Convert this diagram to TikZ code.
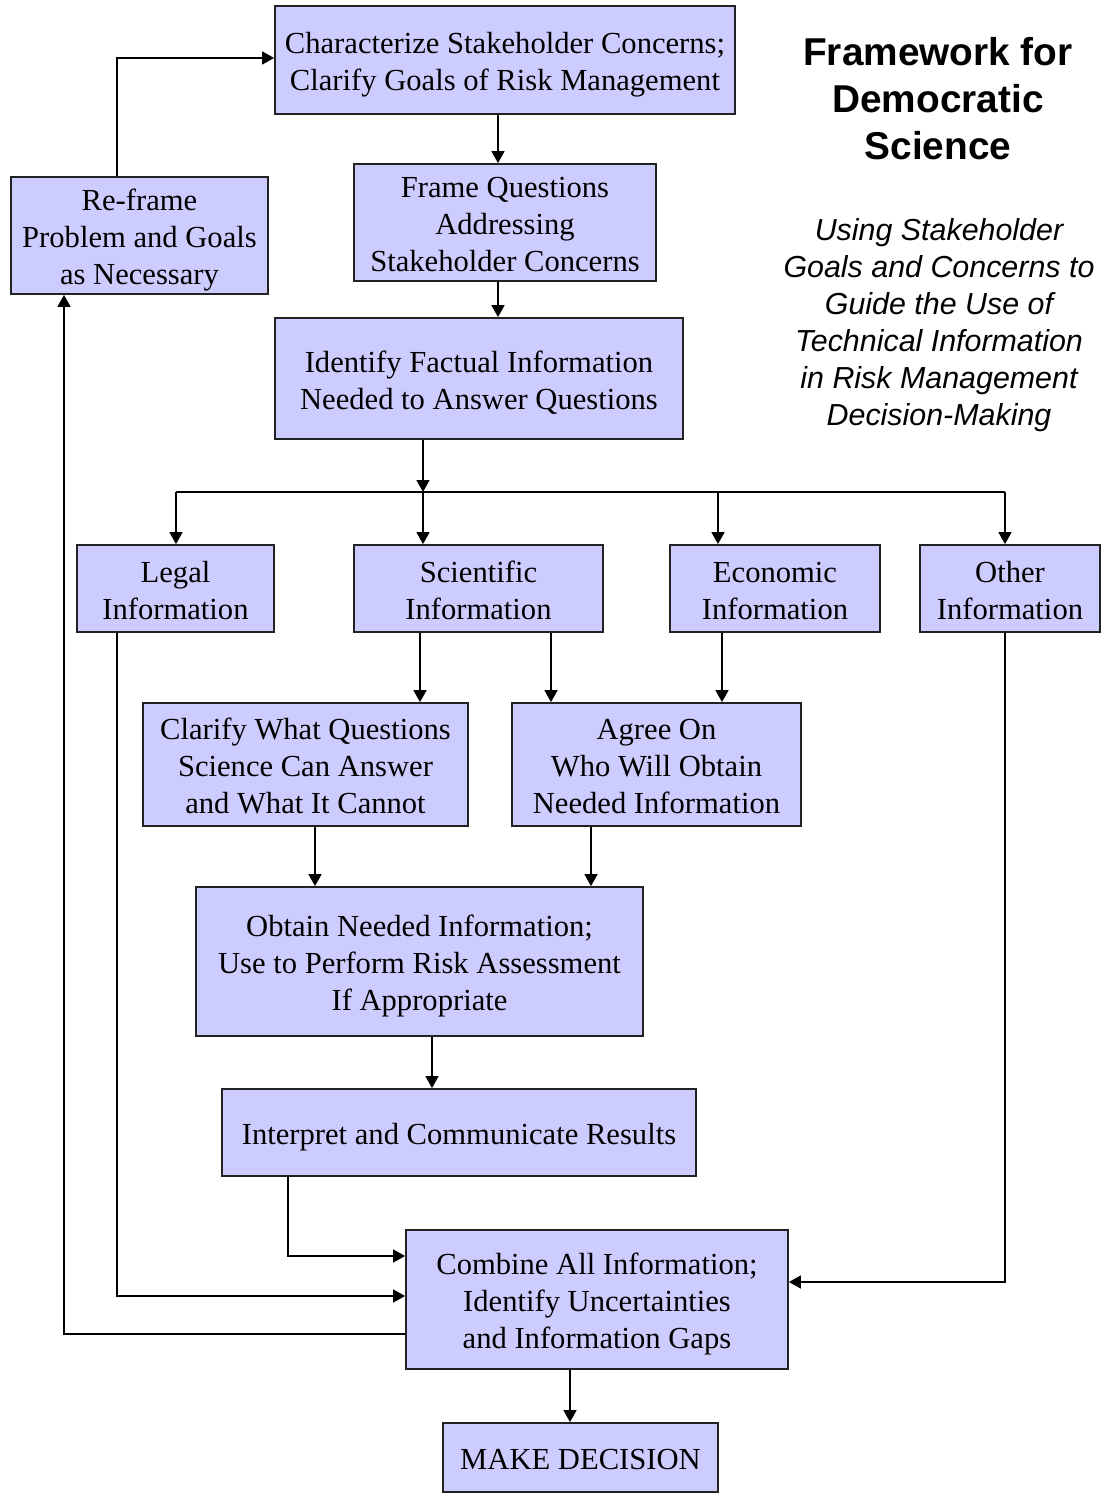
\documentclass[tikz,border=0pt]{standalone}
\usepackage{fontspec}
\setmainfont{Liberation Serif}
\newfontfamily\headfont{Liberation Sans}
\usetikzlibrary{arrows.meta}
\definecolor{boxfill}{HTML}{CCCCFF}
\definecolor{boxline}{HTML}{222222}
% invisible strut that sets a common top line height in every box
\newcommand\topstrut{\rule{0pt}{12pt}}
\tikzset{
  stepbox/.style={draw=boxline, line width=0.9pt, fill=boxfill, align=center,
    inner sep=0pt, text depth=0pt, font=\fontsize{15.3}{18.5}\selectfont},
  arr/.style={line width=0.8pt, -{Triangle[length=6pt,width=6.5pt]}},
  wire/.style={line width=0.8pt}
}
\begin{document}
\begin{tikzpicture}[x=0.5pt,y=-0.5pt]
\useasboundingbox (0,0) rectangle (1104,1501);

% process boxes
\node[stepbox, minimum width=230pt, minimum height=54pt] (char) at (505,60)
  {\topstrut Characterize Stakeholder Concerns;\\Clarify Goals of Risk Management};
\node[stepbox, minimum width=151pt, minimum height=58.5pt] (frame) at (505,222.5)
  {\topstrut Frame Questions\\Addressing\\Stakeholder Concerns};
\node[stepbox, minimum width=128.5pt, minimum height=58.5pt] (reframe) at (139.5,235.5)
  {\topstrut Re-frame\\Problem and Goals\\as Necessary};
\node[stepbox, minimum width=204pt, minimum height=60.5pt] (ident) at (479,378.5)
  {\topstrut Identify Factual Information\\Needed to Answer Questions};
\node[stepbox, minimum width=98.5pt, minimum height=43.5pt] (legal) at (175.5,588.5)
  {\topstrut Legal\\Information};
\node[stepbox, minimum width=124.5pt, minimum height=43.5pt] (sci) at (478.5,588.5)
  {\topstrut Scientific\\Information};
\node[stepbox, minimum width=105pt, minimum height=43.5pt] (econ) at (775,588.5)
  {\topstrut Economic\\Information};
\node[stepbox, minimum width=90pt, minimum height=43.5pt] (other) at (1010,588.5)
  {\topstrut Other\\Information};
\node[stepbox, minimum width=162.5pt, minimum height=61.5pt] (clarify) at (305.5,764.5)
  {\topstrut Clarify What Questions\\Science Can Answer\\and What It Cannot};
\node[stepbox, minimum width=144.5pt, minimum height=61.5pt] (agree) at (656.5,764.5)
  {\topstrut Agree On\\Who Will Obtain\\Needed Information};
\node[stepbox, minimum width=223.5pt, minimum height=74.5pt] (obtain) at (419.5,961.5)
  {\topstrut Obtain Needed Information;\\Use to Perform Risk Assessment\\If Appropriate};
\node[stepbox, minimum width=237pt, minimum height=43.5pt] (interp) at (459,1132.5)
  {\topstrut Interpret and Communicate Results};
\node[stepbox, minimum width=191pt, minimum height=69.5pt] (combine) at (597,1299.5)
  {\topstrut Combine All Information;\\Identify Uncertainties\\and Information Gaps};
\node[stepbox, minimum width=137.5pt, minimum height=34.5pt] (decide) at (580.5,1457.5)
  {\topstrut MAKE DECISION};

% title and subtitle
\node[align=center, inner sep=0pt, font=\headfont\bfseries\fontsize{19.4}{23.5}\selectfont]
  (title) at (938,99) {Framework for\\Democratic\\Science};
\node[align=center, inner sep=0pt, font=\headfont\itshape\fontsize{15.2}{18.5}\selectfont]
  (subtitle) at (939,325.5) {Using Stakeholder\\Goals and Concerns to\\Guide the Use of\\Technical Information\\in Risk Management\\Decision-Making};

% routing points
\coordinate (c1) at (498,0);
\coordinate (busL) at (176,492);
\coordinate (busM) at (423,492);
\coordinate (busE) at (718,492);
\coordinate (busR) at (1005,492);
\coordinate (xa) at (420,0);
\coordinate (xb) at (551,0);
\coordinate (xc) at (722,0);
\coordinate (xd) at (315,0);
\coordinate (xe) at (591,0);
\coordinate (xf) at (432,0);
\coordinate (xg) at (570,0);
\coordinate (k1) at (288,1256);
\coordinate (k2) at (117,1296);
\coordinate (k3) at (1005,1282);
\coordinate (k4) at (64,1334);
\coordinate (k5) at (117,58);

% connectors
\draw[arr] (char.south -| c1) -- (frame.north -| c1);
\draw[arr] (frame.south -| c1) -- (ident.north -| c1);
\draw[arr] (ident.south -| busM) -- (busM);
\draw[wire] (busL) -- (busR);
\draw[arr] (busL) -- (legal.north -| busL);
\draw[arr] (busM) -- (sci.north -| busM);
\draw[arr] (busE) -- (econ.north -| busE);
\draw[arr] (busR) -- (other.north -| busR);
\draw[arr] (sci.south -| xa) -- (clarify.north -| xa);
\draw[arr] (sci.south -| xb) -- (agree.north -| xb);
\draw[arr] (econ.south -| xc) -- (agree.north -| xc);
\draw[arr] (clarify.south -| xd) -- (obtain.north -| xd);
\draw[arr] (agree.south -| xe) -- (obtain.north -| xe);
\draw[arr] (obtain.south -| xf) -- (interp.north -| xf);
\draw[arr] (interp.south -| k1) -- (k1) -- (combine.west |- k1);
\draw[arr] (legal.south -| k2) -- (k2) -- (combine.west |- k2);
\draw[arr] (other.south -| k3) -- (k3) -- (combine.east |- k3);
\draw[arr] (combine.west |- k4) -- (k4) -- (reframe.south -| k4);
\draw[arr] (reframe.north -| k5) -- (k5) -- (char.west |- k5);
\draw[arr] (combine.south -| xg) -- (decide.north -| xg);
\end{tikzpicture}
\end{document}
